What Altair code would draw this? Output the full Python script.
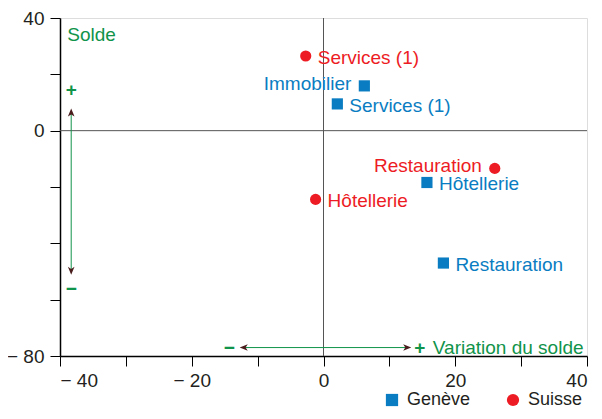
import altair as alt
import pandas as pd

# ---- data ----
series = ["Suisse", "Suisse", "Suisse", "Genève", "Genève", "Genève", "Genève"]
labels = ["Services (1)", "Restauration", "Hôtellerie", "Immobilier",
          "Services (1)", "Hôtellerie", "Restauration"]
variation = [-2.7, 26.0, -1.2, 6.2, 2.1, 15.7, 18.2]
solde = [26.5, -13.4, -24.4, 15.9, 9.5, -18.4, -47.0]
label_side = ["right", "left", "right", "left", "right", "right", "right"]

x_ticks = list(range(-40, 41, 10))
y_ticks = list(range(-80, 41, 10))

BLUE = "#0A7DC2"
RED = "#ED1C24"
GREEN = "#10934A"
ARROW = "#4A1C1C"
FONT = "Liberation Sans"
FS = 19

df = pd.DataFrame({"serie": series, "label": labels, "x": variation,
                   "y": solde, "side": label_side})

xs = alt.Scale(domain=[-40, 40], nice=False, zero=False)
ys = alt.Scale(domain=[-80, 40], nice=False, zero=False)

x_axis = alt.Axis(values=x_ticks, grid=False, title=None, tickSize=10,
                  tickColor="black", domainColor="black", domainWidth=1.5,
                  labelFontSize=FS, labelColor="#231F20", labelPadding=5,
                  labelExpr="datum.value % 20 != 0 ? '' : (datum.value < 0 ? '\u2212 ' + abs(datum.value) : '' + datum.value)")
y_axis = alt.Axis(values=y_ticks, grid=False, title=None, tickSize=10,
                  tickColor="black", domainColor="black", domainWidth=1.5,
                  labelFontSize=FS, labelColor="#231F20", labelPadding=6,
                  labelExpr="indexof([40, 0, -80], datum.value) < 0 ? '' : (datum.value < 0 ? '\u2212 ' + abs(datum.value) : '' + datum.value)")

base = alt.Chart(df)

zero_x = alt.Chart(pd.DataFrame({"v": [0]})).mark_rule(color="#555555", strokeWidth=1).encode(
    x=alt.X("v:Q", scale=xs, axis=x_axis))
zero_y = alt.Chart(pd.DataFrame({"v": [0]})).mark_rule(color="#555555", strokeWidth=1).encode(
    y=alt.Y("v:Q", scale=ys, axis=y_axis))

points = base.mark_point(filled=True, opacity=1, size=125).encode(
    x=alt.X("x:Q", scale=xs, axis=x_axis),
    y=alt.Y("y:Q", scale=ys, axis=y_axis),
    color=alt.Color("serie:N", scale=alt.Scale(domain=["Genève", "Suisse"], range=[BLUE, RED]),
                    legend=alt.Legend(title=None, orient="none", direction="horizontal",
                                      legendX=323, legendY=373, labelFontSize=18,
                                      symbolSize=150, columnPadding=33, labelOffset=6,
                                      labelColor="#231F20", labelFont=FONT)),
    shape=alt.Shape("serie:N", scale=alt.Scale(domain=["Genève", "Suisse"], range=["square", "circle"])),
)

text_enc = dict(
    x=alt.X("x:Q", scale=xs),
    y=alt.Y("y:Q", scale=ys),
    text="label:N",
    color=alt.Color("serie:N", scale=alt.Scale(domain=["Genève", "Suisse"], range=[BLUE, RED]), legend=None),
)
text_right = base.transform_filter("datum.side == 'right'").mark_text(
    align="left", baseline="middle", dx=12, dy=2, fontSize=FS, font=FONT).encode(**text_enc)
text_left = base.transform_filter("datum.side == 'left'").mark_text(
    align="right", baseline="middle", dx=-13, dy=-2, fontSize=FS, font=FONT).encode(**text_enc)

# ---- annotations ----
ann_text = pd.DataFrame({
    "x": [-38.9, -38.3, -38.3, -14.3, 14.6, 16.6],
    "y": [34.0, 14.5, -56.3, -77.0, -77.0, -77.0],
    "t": ["Solde", "+", "\u2212", "\u2212", "+", "Variation du solde"],
    "a": ["left", "center", "center", "center", "center", "left"],
})
ann_left = alt.Chart(ann_text).transform_filter("datum.a == 'left'").mark_text(
    align="left", baseline="middle", fontSize=FS, font=FONT, color=GREEN).encode(
    x=alt.X("x:Q", scale=xs), y=alt.Y("y:Q", scale=ys), text="t:N")
ann_center = alt.Chart(ann_text).transform_filter("datum.a == 'center'").mark_text(
    align="center", baseline="middle", fontSize=FS, font=FONT, color=GREEN,
    fontWeight="bold").encode(
    x=alt.X("x:Q", scale=xs), y=alt.Y("y:Q", scale=ys), text="t:N")

arrows = pd.DataFrame({"x1": [-38.3, -12.0], "y1": [-50.3, -77.0],
                       "x2": [-38.3, 12.6], "y2": [7.0, -77.0]})
arrow_lines = alt.Chart(arrows).mark_rule(color=GREEN, strokeWidth=1).encode(
    x=alt.X("x1:Q", scale=xs), y=alt.Y("y1:Q", scale=ys), x2="x2:Q", y2="y2:Q")

heads = pd.DataFrame({"x": [-38.3, -38.3, -12.0, 12.6],
                      "y": [6.2, -49.5, -77.0, -77.0],
                      "ang": [0, 180, 270, 90]})
arrow_path = "M0,-1 L0.7,0.7 L0,0.25 L-0.7,0.7 Z"
arrow_heads = alt.Chart(heads).mark_point(shape=arrow_path, filled=True, opacity=1,
                                          color=ARROW, size=90).encode(
    x=alt.X("x:Q", scale=xs), y=alt.Y("y:Q", scale=ys),
    angle=alt.Angle("ang:Q", scale=None))

chart = alt.layer(zero_x, zero_y, arrow_lines, arrow_heads, ann_left, ann_center,
                  points, text_right, text_left).properties(
    width=527, height=338,
    autosize=alt.AutoSizeParams(type="none"),
    padding={"left": 52, "top": 10, "right": 7, "bottom": 55},
).configure_view(fill="#D9D9DB", stroke="#8A8A8A", strokeWidth=1.5).configure(
    font=FONT).configure_axis(labelFont=FONT)

chart.save("out.html", embed_options={"renderer": "svg", "actions": False})
